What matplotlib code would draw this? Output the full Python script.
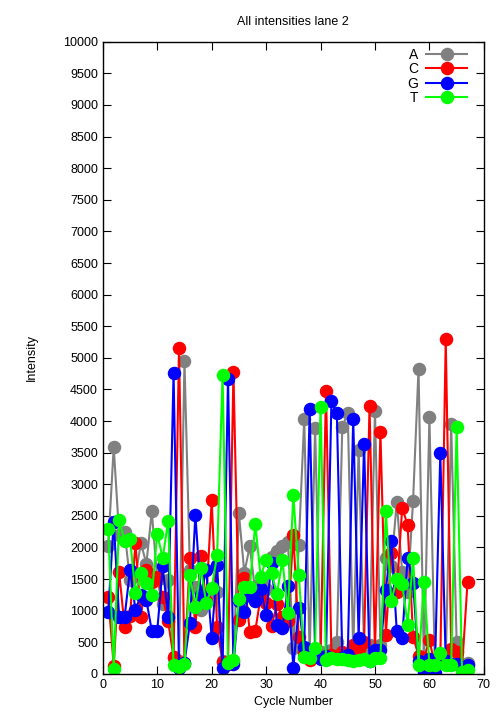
import matplotlib
matplotlib.use("Agg")
import matplotlib.pyplot as plt
import numpy as np

plt.rcParams['font.family'] = ['Liberation Sans', 'DejaVu Sans']

cycles = np.arange(1, 68)

# intensities per base
a_vals = [2030, 3590, 2200, 2250, 1480, 1550, 2070, 1740, 2570, 1490,
          1100, 1490, 250, 200, 4950, 1650, 1380, 1010, 1200, 1300,
          1300, 200, 150, 200, 2540, 1600, 2020, 1300, 1450, 1350,
          1850, 1950, 2030, 2080, 410, 2040, 4030, 300, 3890, 350,
          300, 380, 500, 3910, 4120, 350, 3550, 400, 450, 4160,
          450, 1840, 1700, 2720, 1610, 1300, 2740, 4830, 100, 4070,
          150, 250, 200, 3960, 510, 120, 170]
c_vals = [1220, 130, 1610, 750, 920, 2070, 900, 1650, 1450, 1540,
          1220, 830, 260, 5160, 170, 1840, 740, 1860, 1150, 2750,
          740, 190, 160, 4770, 850, 1520, 660, 680, 1220, 1120,
          760, 1100, 900, 830, 2200, 580, 350, 220, 300, 250,
          4480, 300, 280, 350, 300, 450, 400, 500, 4240, 350,
          3830, 620, 1920, 1300, 2630, 2350, 590, 290, 250, 530,
          150, 200, 5300, 400, 350, 100, 1450]
g_vals = [980, 2410, 900, 900, 1650, 1010, 1250, 1170, 680, 680,
          1700, 900, 4760, 100, 180, 800, 2520, 1250, 1650, 570,
          1720, 100, 4670, 150, 1150, 980, 1250, 1150, 1350, 930,
          1760, 780, 720, 1390, 100, 1050, 430, 4190, 350, 230,
          280, 4310, 4120, 250, 300, 4040, 570, 3640, 200, 380,
          380, 1330, 2110, 680, 570, 1840, 1440, 200, 30, 240,
          20, 3490, 200, 150, 150, 100, 140]
t_vals = [2300, 80, 2440, 2100, 2140, 1280, 1590, 1440, 1250, 2220,
          1830, 2420, 140, 110, 150, 1570, 1060, 1670, 1120, 1360,
          1880, 4730, 170, 220, 1190, 1380, 1380, 2370, 1540, 1800,
          1590, 1270, 1800, 960, 2830, 1570, 270, 250, 410, 4230,
          220, 250, 230, 240, 220, 200, 220, 240, 210, 250,
          250, 2570, 1150, 1500, 1420, 780, 1840, 140, 1460, 140,
          140, 330, 140, 140, 3910, 30, 60]

series = [("A", a_vals, "#808080"), ("C", c_vals, "#ff0000"),
          ("G", g_vals, "#0000ff"), ("T", t_vals, "#00ff00")]

fig = plt.figure(figsize=(5.04, 7.2), dpi=100)
ax = fig.add_axes([0.204, 0.064, 0.756, 0.878])

for name, vals, col in series:
    ax.plot(cycles, vals, '-o', color=col, lw=1.5, ms=8.7, label=name)

ax.set_xlim(0, 70)
ax.set_ylim(0, 10000)
ax.set_xticks(np.arange(0, 71, 10))
ax.set_yticks(np.arange(0, 10001, 500))
ax.tick_params(direction='in', top=True, right=True, length=6, labelsize=9)
for s in ax.spines.values():
    s.set_linewidth(1.0)

ax.set_title("All intensities lane 2", fontsize=9, pad=12)
ax.set_xlabel("Cycle Number", fontsize=9)
ax.set_ylabel("Intensity", fontsize=9, labelpad=18)

ax.legend(loc='upper right', bbox_to_anchor=(0.955, 0.99), frameon=False,
          markerfirst=False, fontsize=10, handlelength=2.9, labelspacing=0.02,
          borderpad=0.0, borderaxespad=0.0, handletextpad=0.6)

fig.savefig("out.png", dpi=100)
